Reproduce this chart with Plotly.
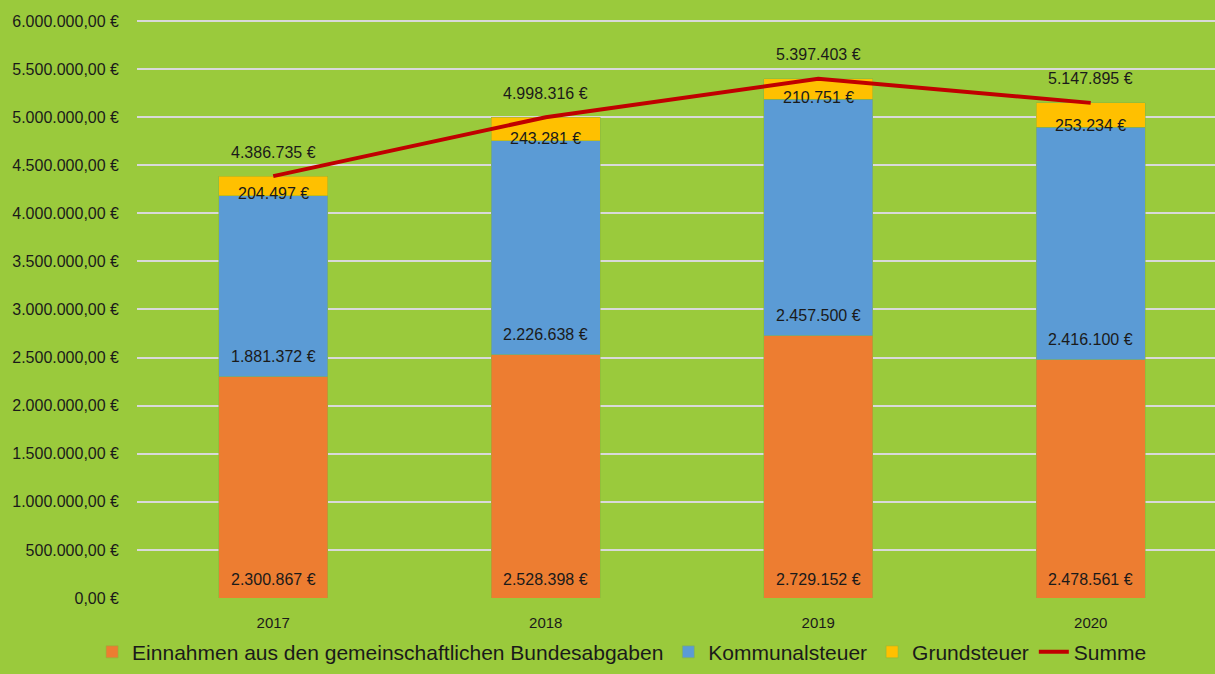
import plotly.graph_objects as go

years = ["2017", "2018", "2019", "2020"]
einnahmen = [2300867, 2528398, 2729152, 2478561]
kommunal = [1881372, 2226638, 2457500, 2416100]
grund = [204497, 243281, 210751, 253234]
summe = [4386735, 4998316, 5397403, 5147895]

tickvals = [i * 500000 for i in range(13)]


def de_num(v, dec=0):
    s = f"{v:,.{dec}f}"
    return s.replace(",", "X").replace(".", ",").replace("X", ".")


ticktext = [de_num(v, 2) + " €" for v in tickvals]

FONT = "Liberation Sans, Arial"
BG = "#9ACA3C"
TXT = "#1a1a1a"

fig = go.Figure()
fig.add_bar(x=years, y=einnahmen, name="Einnahmen aus den gemeinschaftlichen Bundesabgaben",
            marker=dict(color="#ED7D31", line=dict(width=0.5, color="#8AB43A")), width=0.4)
fig.add_bar(x=years, y=kommunal, name="Kommunalsteuer",
            marker=dict(color="#5B9BD5", line=dict(width=0.5, color="#8AB43A")), width=0.4)
fig.add_bar(x=years, y=grund, name="Grundsteuer",
            marker=dict(color="#FFC000", line=dict(width=0.5, color="#8AB43A")), width=0.4)
fig.add_scatter(x=years, y=summe, name="Summe", mode="lines",
                line=dict(color="#C00000", width=4))

ann = []
for i in range(len(years)):
    base_k = einnahmen[i]
    base_g = einnahmen[i] + kommunal[i]
    ann.append(dict(x=i, y=0, text=de_num(einnahmen[i]) + " €", yshift=19))
    ann.append(dict(x=i, y=base_k, text=de_num(kommunal[i]) + " €", yshift=20))
    ann.append(dict(x=i, y=base_g, text=de_num(grund[i]) + " €", yshift=2))
    ann.append(dict(x=i, y=summe[i], text=de_num(summe[i]) + " €", yshift=24))

fig.update_layout(
    width=1215, height=674,
    paper_bgcolor=BG, plot_bgcolor=BG,
    barmode="stack",
    margin=dict(l=137, r=0, t=19, b=76, autoexpand=False),
    font=dict(family=FONT, color=TXT),
    showlegend=True,
    legend=dict(orientation="h", x=0.45, xanchor="center", y=-0.129, yanchor="bottom",
                font=dict(family=FONT, size=21, color=TXT),
                traceorder="normal", itemwidth=30, bgcolor="rgba(0,0,0,0)"),
)
for a in ann:
    fig.add_annotation(x=a["x"], y=a["y"], text=a["text"], yshift=a["yshift"],
                       showarrow=False, xref="x", yref="y",
                       font=dict(family=FONT, size=16, color=TXT))

fig.update_xaxes(type="category", range=[-0.5, 3.456], showgrid=False, showline=False,
                 ticks="", ticklabelstandoff=14,
                 tickfont=dict(family=FONT, size=15, color=TXT))
fig.update_yaxes(range=[0, 6020000], tickvals=tickvals, ticktext=ticktext,
                 showgrid=True, gridcolor="#D9D9D9", gridwidth=2, zeroline=False,
                 tickfont=dict(family=FONT, size=16, color=TXT), ticks="",
                 ticklabelstandoff=17)

fig.write_html("out.html", config={"displayModeBar": False},
               post_script="document.body.style.margin='0';")
